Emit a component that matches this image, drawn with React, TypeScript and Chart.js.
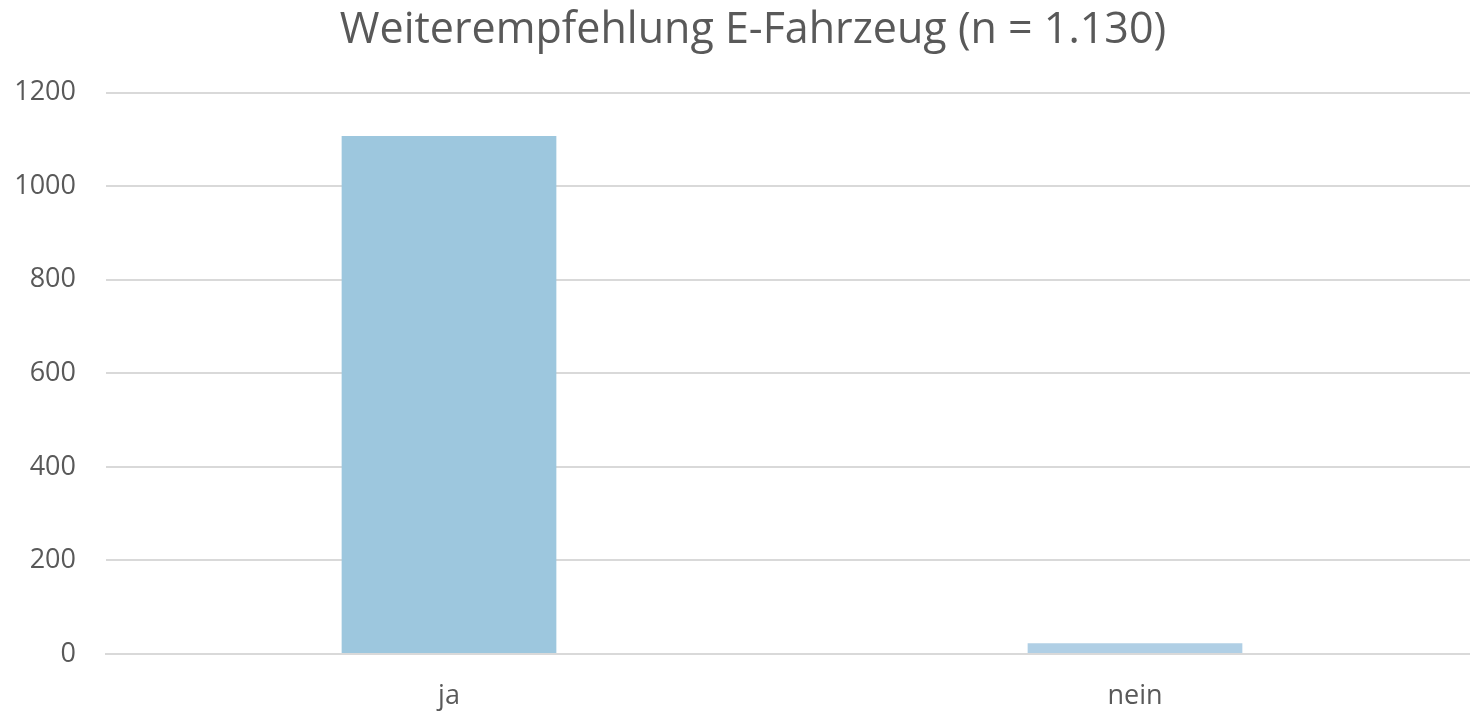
import React, { useEffect, useRef } from "react";
import { Chart, registerables } from "chart.js";

Chart.register(...registerables);

const categories = ["ja", "nein"];
const values = [1107, 23];
const barColors = ["#9DC7DE", "#B0CFE5"];
const yTicks = [0, 200, 400, 600, 800, 1000, 1200];
const titleText = "Weiterempfehlung E-Fahrzeug (n = 1.130)";

const titleShift = {
  id: "titleShift",
  afterLayout(chart: any) {
    const t = chart.titleBlock;
    if (t) {
      t.left = 36;
      t.right = 1470;
    }
  },
};

export default function App() {
  const ref = useRef<HTMLCanvasElement | null>(null);
  useEffect(() => {
    if (!ref.current) return;
    const chart = new Chart(ref.current, {
      type: "bar",
      data: {
        labels: categories,
        datasets: [
          {
            data: values,
            backgroundColor: barColors,
            borderWidth: 0,
            categoryPercentage: 1,
            barPercentage: 0.313,
          },
        ],
      },
      plugins: [titleShift],
      options: {
        animation: false,
        responsive: true,
        maintainAspectRatio: false,
        layout: { padding: { left: 12, right: 0, top: 5, bottom: 0 } },
        plugins: {
          legend: { display: false },
          tooltip: { enabled: false },
          title: {
            display: true,
            text: titleText,
            color: "#595959",
            font: { family: "Open Sans", size: 43, weight: "normal" },
            padding: { top: 0, bottom: 36 },
          },
        },
        scales: {
          x: {
            grid: { display: false, drawTicks: false },
            border: { display: true, color: "#D9D9D9", width: 2 },
            ticks: {
              color: "#595959",
              font: { family: "Open Sans", size: 27 },
              padding: 26,
            },
            afterFit: (axis: any) => {
              axis.height = 57;
            },
          },
          y: {
            min: 0,
            max: 1200,
            afterBuildTicks: (axis: any) => {
              axis.ticks = yTicks.map((v) => ({ value: v }));
            },
            grid: { color: "#D9D9D9", lineWidth: 2, drawTicks: false },
            border: { display: false },
            ticks: {
              color: "#595959",
              font: { family: "Open Sans", size: 27 },
              padding: 30,
              callback: (v: any) => String(v),
            },
            afterFit: (axis: any) => {
              axis.width = 94;
            },
          },
        },
      },
    });
    return () => chart.destroy();
  }, []);
  return (
    <div style={{ position: "fixed", left: 0, top: 0, width: "1470px", height: "711px", background: "#fff", overflow: "hidden" }}>
      <div style={{ position: "absolute", left: 0, top: 0, width: "1478px", height: "711px" }}>
        <canvas ref={ref} />
      </div>
    </div>
  );
}
